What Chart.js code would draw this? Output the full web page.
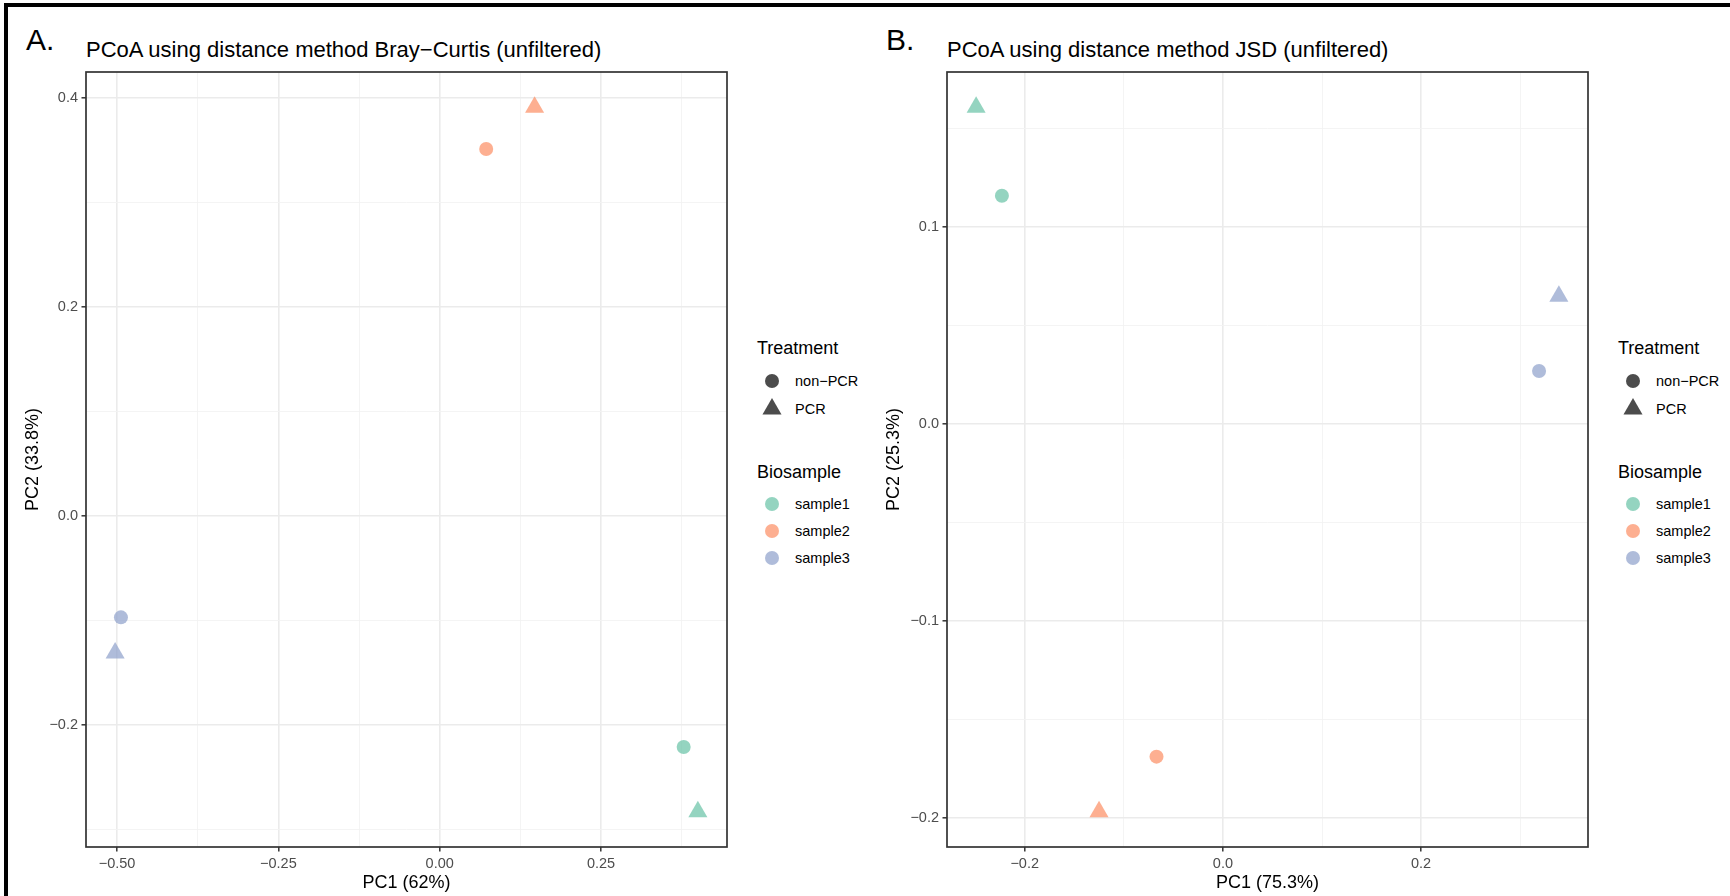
<!DOCTYPE html>
<html>
<head>
<meta charset="utf-8">
<title>PCoA</title>
<script src="https://cdn.jsdelivr.net/npm/chart.js@4.4.1/dist/chart.umd.min.js"></script>
<style>
    body { margin: 0; background: #fff; font-family: 'Liberation Sans', Arial, sans-serif; }
    #fig { position: relative; width: 1730px; height: 896px; overflow: hidden; background: #fff; }
    .frame-top { position: absolute; left: 4px; top: 3px; width: 1726px; height: 4px; background: #000; }
    .frame-left { position: absolute; left: 4px; top: 3px; width: 4px; height: 893px; background: #000; }
    .panel-tag { position: absolute; font-size: 30px; line-height: 30px; color: #000; }
    .plot-title { position: absolute; font-size: 22px; line-height: 22px; color: #000; white-space: nowrap; }
    .chart-box { position: absolute; top: 0; width: 745px; height: 896px; }
    .lg-text { position: absolute; white-space: nowrap; color: #000; }
    .lg-mark { position: absolute; width: 24px; height: 24px; }
</style>
</head>
<body>
<div id="fig">
    <div class="frame-top"></div>
    <div class="frame-left"></div>

    <div class="panel-tag" style="left:26px; top:25px;">A.</div>
    <div class="plot-title" style="left:86px; top:39px;">PCoA using distance method Bray−Curtis (unfiltered)</div>
    <div class="chart-box" style="left:0px;"><canvas id="chartA" width="745" height="896"></canvas></div>
    <div id="legendA"></div>

    <div class="panel-tag" style="left:886px; top:25px;">B.</div>
    <div class="plot-title" style="left:947px; top:39px;">PCoA using distance method JSD (unfiltered)</div>
    <div class="chart-box" style="left:861px;"><canvas id="chartB" width="745" height="896"></canvas></div>
    <div id="legendB"></div>
</div>

<script>
// Legend groups
const samples = ['sample1', 'sample2', 'sample3'];
const treatments = ['non−PCR', 'PCR'];

// Bray-Curtis ordination (panel A)
const brayPC1NonPCR = [0.378, 0.072, -0.494];
const brayPC2NonPCR = [-0.221, 0.351, -0.097];
const brayPC1PCR = [0.400, 0.147, -0.503];
const brayPC2PCR = [-0.283, 0.391, -0.131];

// JSD ordination (panel B)
const jsdPC1NonPCR = [-0.223, -0.067, 0.319];
const jsdPC2NonPCR = [0.116, -0.169, 0.027];
const jsdPC1PCR = [-0.249, -0.125, 0.339];
const jsdPC2PCR = [0.161, -0.197, 0.065];

// Tick values and labels
const brayXTicks = [-0.5, -0.25, 0, 0.25];
const brayXLabels = ['−0.50', '−0.25', '0.00', '0.25'];
const brayXMinor = [-0.375, -0.125, 0.125, 0.375];
const brayYTicks = [-0.2, 0, 0.2, 0.4];
const brayYLabels = ['−0.2', '0.0', '0.2', '0.4'];
const brayYMinor = [-0.3, -0.1, 0.1, 0.3];

const jsdXTicks = [-0.2, 0, 0.2];
const jsdXLabels = ['−0.2', '0.0', '0.2'];
const jsdXMinor = [-0.1, 0.1, 0.3];
const jsdYTicks = [-0.2, -0.1, 0, 0.1];
const jsdYLabels = ['−0.2', '−0.1', '0.0', '0.1'];
const jsdYMinor = [-0.15, -0.05, 0.05, 0.15];

// Set2 colours with alpha, and shapes per treatment
const sampleColors = ['rgba(102,194,165,0.7)', 'rgba(252,141,98,0.7)', 'rgba(141,160,203,0.7)'];
const treatmentShapes = ['circle', 'triangle'];
const shapeRadius = { circle: 7, triangle: 11 };

Chart.defaults.font.family = "'Liberation Sans', Arial, sans-serif";

// ggplot-like 5% expansion of the data range
function expandRange(a, b) {
    const all = a.concat(b);
    const lo = Math.min(...all), hi = Math.max(...all);
    const pad = (hi - lo) * 0.05;
    return { min: lo - pad, max: hi + pad };
}

function near(a, b) { return Math.abs(a - b) < 1e-9; }

// Draws the full panel frame on top of the points
const panelBorder = {
    id: 'panelBorder',
    afterDatasetsDraw(chart) {
        const { ctx, chartArea: a } = chart;
        ctx.save();
        ctx.strokeStyle = '#333333';
        ctx.lineWidth = 1.7;
        ctx.strokeRect(a.left, a.top, a.right - a.left, a.bottom - a.top);
        ctx.restore();
    }
};

function axisOptions(range, major, labels, minor, titleText, isX) {
    const isMajor = v => major.some(m => near(m, v));
    return {
        type: 'linear',
        position: isX ? 'bottom' : 'left',
        min: range.min,
        max: range.max,
        afterBuildTicks: scale => {
            scale.ticks = major.concat(minor).sort((p, q) => p - q).map(v => ({ value: v }));
        },
        afterFit: scale => {
            if (isX) scale.height = 49;
            else scale.width = 86;
        },
        ticks: {
            autoSkip: false,
            maxRotation: 0,
            padding: 3.5,
            color: '#4D4D4D',
            font: { size: 14.5 },
            callback: value => {
                const i = major.findIndex(m => near(m, value));
                return i >= 0 ? labels[i] : '';
            }
        },
        grid: {
            color: ctx => isMajor(ctx.tick.value) ? '#EBEBEB' : '#F3F3F3',
            lineWidth: ctx => isMajor(ctx.tick.value) ? 1.6 : 0.9,
            tickColor: ctx => isMajor(ctx.tick.value) ? '#333333' : 'rgba(0,0,0,0)',
            tickLength: 4.5,
            tickWidth: 1.5
        },
        border: { display: false },
        title: {
            display: true,
            text: titleText,
            color: '#000',
            font: { size: 18 },
            padding: isX ? { top: 0, bottom: 2.2 } : { top: 22.2, bottom: 0 }
        }
    };
}

function makeChart(canvasId, pc1Non, pc2Non, pc1Pcr, pc2Pcr, xAxis, yAxis) {
    const groups = [[pc1Non, pc2Non], [pc1Pcr, pc2Pcr]];
    const datasets = treatments.map((t, k) => ({
        label: t,
        data: samples.map((s, i) => ({ x: groups[k][0][i], y: groups[k][1][i] })),
        pointStyle: treatmentShapes[k],
        pointRadius: shapeRadius[treatmentShapes[k]],
        pointHoverRadius: shapeRadius[treatmentShapes[k]],
        pointBackgroundColor: sampleColors,
        pointBorderWidth: 0,
        showLine: false
    }));

    return new Chart(document.getElementById(canvasId), {
        type: 'scatter',
        data: { datasets },
        options: {
            responsive: false,
            animation: false,
            devicePixelRatio: 1,
            layout: { padding: { left: 0, top: 72, right: 18, bottom: 0 } },
            plugins: { legend: { display: false }, tooltip: { enabled: false } },
            scales: { x: xAxis, y: yAxis }
        },
        plugins: [panelBorder]
    });
}

// HTML legend in ggplot layout
function addText(parent, text, left, top, size) {
    const d = document.createElement('div');
    d.className = 'lg-text';
    d.style.left = left + 'px';
    d.style.top = top + 'px';
    d.style.fontSize = size + 'px';
    d.style.lineHeight = size + 'px';
    d.textContent = text;
    parent.appendChild(d);
}

function addMarker(parent, shape, color, cx, cy) {
    const ns = 'http://www.w3.org/2000/svg';
    const svg = document.createElementNS(ns, 'svg');
    svg.setAttribute('class', 'lg-mark');
    svg.setAttribute('viewBox', '0 0 24 24');
    svg.style.left = (cx - 12) + 'px';
    svg.style.top = (cy - 12) + 'px';
    let el;
    if (shape === 'circle') {
        el = document.createElementNS(ns, 'circle');
        el.setAttribute('cx', 12); el.setAttribute('cy', 12); el.setAttribute('r', shapeRadius.circle);
    } else {
        const r = shapeRadius.triangle;
        const dx = r * Math.sqrt(3) / 2;
        el = document.createElementNS(ns, 'polygon');
        el.setAttribute('points', `12,${12 - r} ${12 + dx},${12 + r / 2} ${12 - dx},${12 + r / 2}`);
    }
    el.setAttribute('fill', color);
    svg.appendChild(el);
    parent.appendChild(svg);
}

function buildLegend(id, left) {
    const box = document.getElementById(id);
    addText(box, 'Treatment', left, 339, 18);
    treatments.forEach((t, i) => {
        const y = 381 + i * 28;
        addMarker(box, treatmentShapes[i], 'rgba(0,0,0,0.7)', left + 15, y);
        addText(box, t, left + 38, y - 7, 14.5);
    });
    addText(box, 'Biosample', left, 463, 18);
    samples.forEach((s, i) => {
        const y = 504 + i * 27;
        addMarker(box, 'circle', sampleColors[i], left + 15, y);
        addText(box, s, left + 38, y - 7, 14.5);
    });
}

const brayX = expandRange(brayPC1NonPCR, brayPC1PCR);
const brayY = expandRange(brayPC2NonPCR, brayPC2PCR);
const jsdX = expandRange(jsdPC1NonPCR, jsdPC1PCR);
const jsdY = expandRange(jsdPC2NonPCR, jsdPC2PCR);

makeChart('chartA', brayPC1NonPCR, brayPC2NonPCR, brayPC1PCR, brayPC2PCR,
    axisOptions(brayX, brayXTicks, brayXLabels, brayXMinor, 'PC1 (62%)', true),
    axisOptions(brayY, brayYTicks, brayYLabels, brayYMinor, 'PC2 (33.8%)', false));

makeChart('chartB', jsdPC1NonPCR, jsdPC2NonPCR, jsdPC1PCR, jsdPC2PCR,
    axisOptions(jsdX, jsdXTicks, jsdXLabels, jsdXMinor, 'PC1 (75.3%)', true),
    axisOptions(jsdY, jsdYTicks, jsdYLabels, jsdYMinor, 'PC2 (25.3%)', false));

buildLegend('legendA', 757);
buildLegend('legendB', 1618);
</script>
</body>
</html>
